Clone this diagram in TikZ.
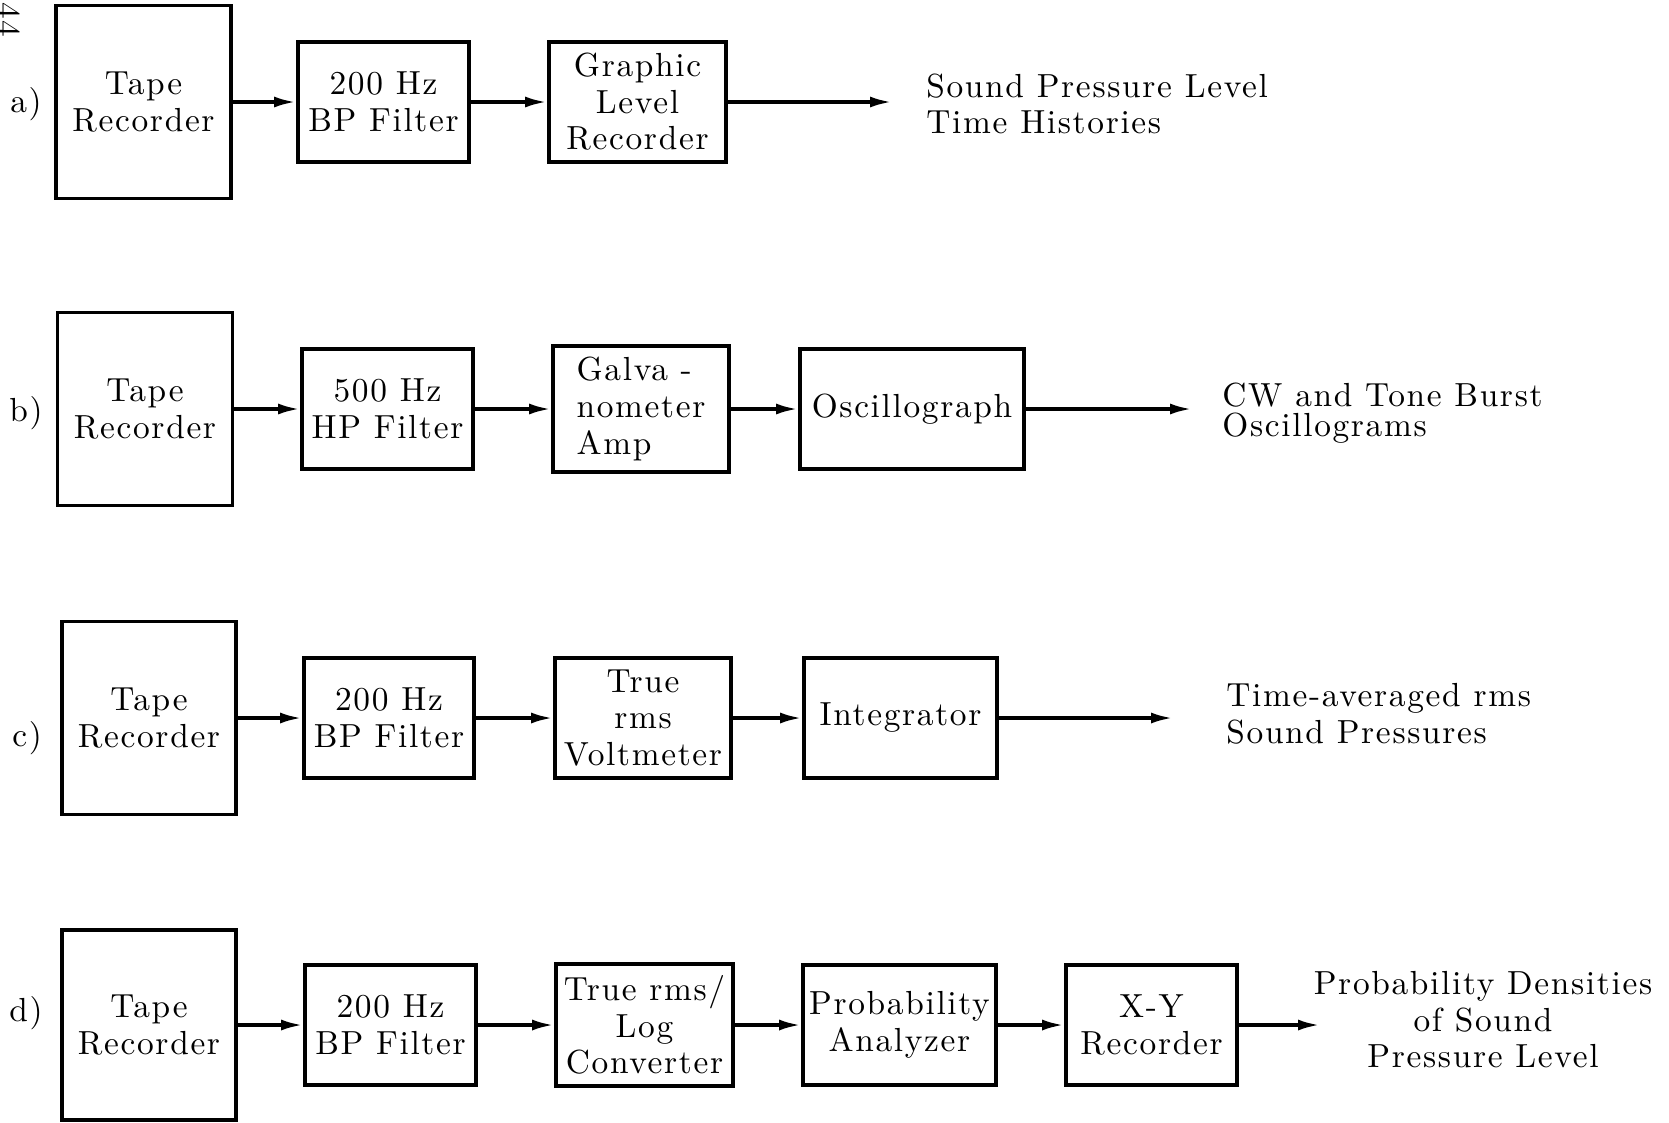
\documentclass[tikz,border=0pt]{standalone}
\usepackage{fontspec}
\newfontfamily\typedfont{lmroman10-regular.otf}[LetterSpace=5]
\usetikzlibrary{arrows.meta, positioning}

\begin{document}
\begin{tikzpicture}[
  >={Latex[length=2.2mm,width=1.1mm]},
% 1. Typed text: a little spaced out
  type_font/.style={
    font=\typedfont\fontsize{9.5}{10.4}\selectfont
  },
% 2. Heavy outlined blocks
  block/.style={
    draw,
    rectangle,
    align=center,
    inner xsep=0.5pt,
    line width=1.1pt,
    minimum height=1.2cm,
    type_font
  },
  tape/.style={
    block,
    minimum width=1.75cm,
    minimum height=1.93cm
  },
% 3. Thick signal edges
  every edge/.append style={
    line width=1pt
  },
  out_text/.style={
    type_font,
    align=left,
    anchor=west
  }
]
  \useasboundingbox (0,0) rectangle (16.69,-11.22);

  % Page number and row labels
  \node[type_font, rotate=-90] (page) at (0.09,-0.20) {44};
  \node[type_font] (la) at (0.26,-1.04) {a)};
  \node[type_font] (lb) at (0.26,-4.13) {b)};
  \node[type_font] (lc) at (0.27,-7.38) {c)};
  \node[type_font] (ld) at (0.26,-10.13) {d)};

  % Row a)
  \node[tape] (tapeA) at (1.435,-1.02) {Tape\\Recorder};
  \node[block, minimum width=1.71cm] (bpA) at (3.835,-1.02) {200 Hz\\BP Filter};
  \node[block, minimum width=1.77cm] (glrA) at (6.375,-1.02) {Graphic\\Level\\Recorder};
  \coordinate (endA) at (8.92,-1.02);
  \node[out_text] (outA) at (9.14,-1.04) {Sound Pressure Level\\Time Histories};

  % Row b)
  \node[tape] (tapeB) at (1.45,-4.09) {Tape\\Recorder};
  \node[block, minimum width=1.71cm] (hpB) at (3.875,-4.09) {500 Hz\\HP Filter};
  \node[block, minimum width=1.76cm, align=left] (galvB) at (6.41,-4.09) {Galva -\\nometer\\Amp};
  \node[block, minimum width=2.24cm] (oscB) at (9.12,-4.09) {Oscillograph};
  \coordinate (endB) at (11.92,-4.09);
  \node[out_text, font=\typedfont\fontsize{9.5}{8.4}\selectfont] (outB) at (12.10,-4.13) {CW and Tone Burst\\Oscillograms};

  % Row c)
  \node[tape, minimum width=1.74cm] (tapeC) at (1.49,-7.18) {Tape\\Recorder};
  \node[block, minimum width=1.70cm] (bpC) at (3.89,-7.18) {200 Hz\\BP Filter};
  \node[block, minimum width=1.76cm] (rmsC) at (6.43,-7.18) {True\\rms\\Voltmeter};
  \node[block, minimum width=1.93cm] (intC) at (9.005,-7.18) {Integrator};
  \coordinate (endC) at (11.73,-7.18);
  \node[out_text] (outC) at (12.14,-7.14) {Time-averaged rms\\Sound Pressures};

  % Row d)
  \node[tape, minimum width=1.74cm, minimum height=1.90cm] (tapeD) at (1.49,-10.25) {Tape\\Recorder};
  \node[block, minimum width=1.71cm] (bpD) at (3.905,-10.25) {200 Hz\\BP Filter};
  \node[block, minimum width=1.77cm] (logD) at (6.445,-10.25) {True rms/\\Log\\Converter};
  \node[block, minimum width=1.93cm] (probD) at (8.995,-10.25) {Probability\\Analyzer};
  \node[block, minimum width=1.71cm] (xyD) at (11.515,-10.25) {X-Y\\Recorder};
  \coordinate (endD) at (13.20,-10.25);
  \node[type_font, align=center] (outD) at (14.83,-10.20) {Probability Densities\\of Sound\\Pressure Level};

  % Edges
  \path[->]
  (tapeA) edge (bpA)
  (bpA) edge (glrA)
  (glrA) edge (endA)

  (tapeB) edge (hpB)
  (hpB) edge (galvB)
  (galvB) edge (oscB)
  (oscB) edge (endB)

  (tapeC) edge (bpC)
  (bpC) edge (rmsC)
  (rmsC) edge (intC)
  (intC) edge (endC)

  (tapeD) edge (bpD)
  (bpD) edge (logD)
  (logD) edge (probD)
  (probD) edge (xyD)
  (xyD) edge (endD);

\end{tikzpicture}
\end{document}
